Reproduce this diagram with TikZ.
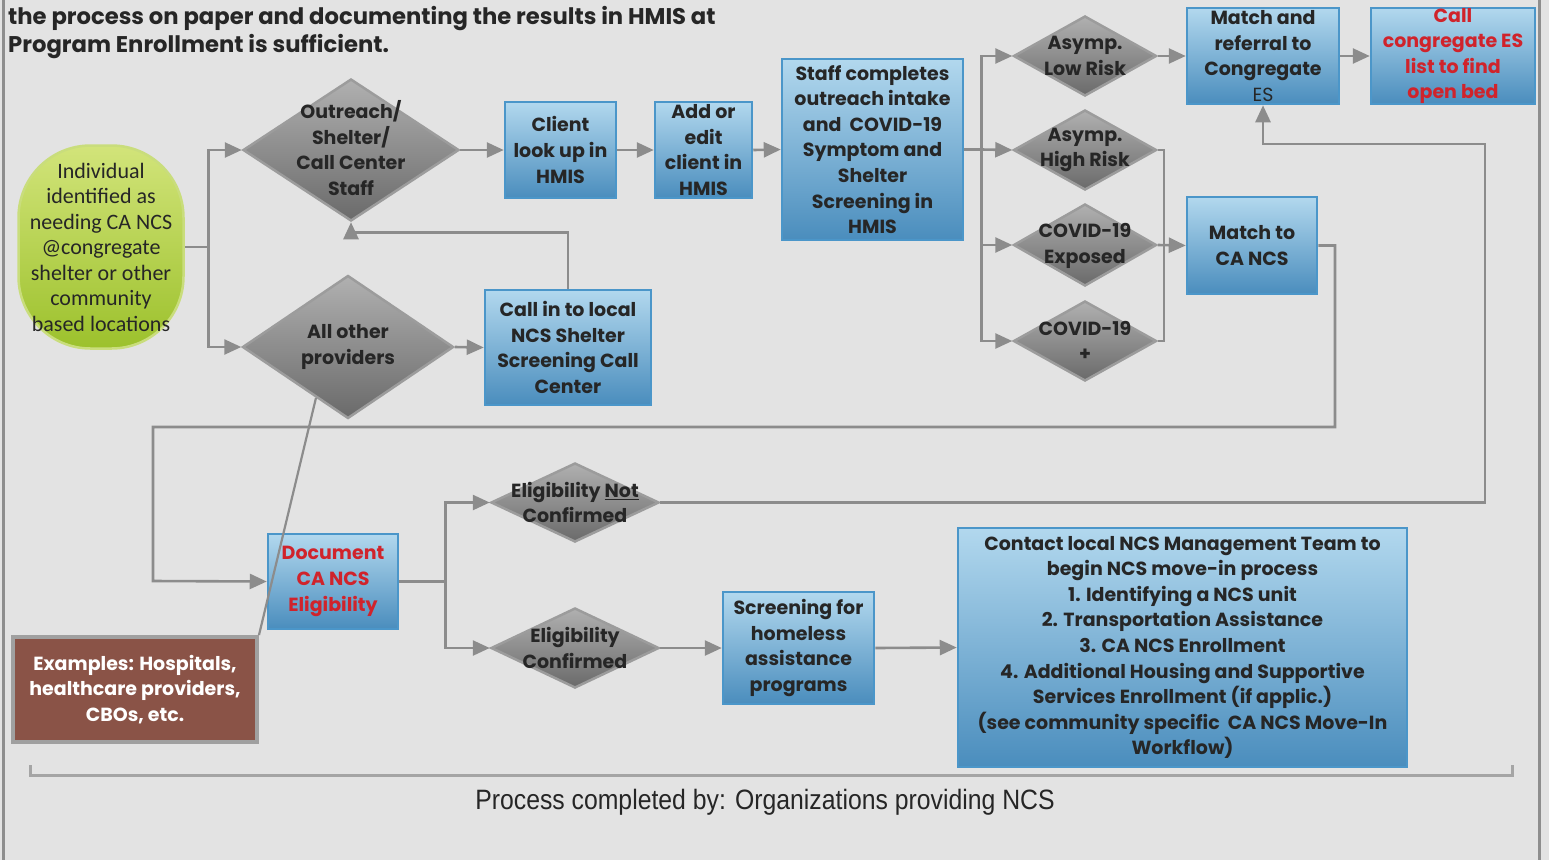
\documentclass[tikz,border=0pt]{standalone}
\usepackage{fontspec}
\setmainfont{Poppins}
\newfontfamily\greenfont{Carlito}
\newfontfamily\narrowfont{Liberation Sans}
\usetikzlibrary{shapes.geometric,arrows.meta,calc}
\definecolor{bg}{HTML}{E3E3E3}
\definecolor{boxtop}{HTML}{B2D8EE}
\definecolor{boxbot}{HTML}{4A8DBD}
\definecolor{boxedge}{HTML}{4B96C9}
\definecolor{diatop}{HTML}{B0B0B0}
\definecolor{diabot}{HTML}{6A6A6A}
\definecolor{diaedge}{HTML}{9C9C9C}
\definecolor{greentop}{HTML}{D2E47A}
\definecolor{greenbot}{HTML}{9CC12C}
\definecolor{greenedge}{HTML}{C9DD7C}
\definecolor{brownfill}{HTML}{8A5347}
\definecolor{brownedge}{HTML}{A0A0A0}
\definecolor{txt}{HTML}{262626}
\definecolor{redtxt}{HTML}{D0232B}
\definecolor{arr}{HTML}{8C8C8C}
\definecolor{frame}{HTML}{8E8E8E}
\newcommand\boxfont{\fontsize{19}{25.6}\selectfont\bfseries}
\begin{document}
\begin{tikzpicture}[x=1pt,y=-1pt,
  box/.style={draw=boxedge, line width=2.5pt, top color=boxtop, bottom color=boxbot, inner sep=0pt, align=center, font=\boxfont, text=txt},
  dia/.style={diamond, draw=diaedge, line width=2.5pt, top color=diatop, bottom color=diabot, inner sep=0pt},
  dtxt/.style={font=\boxfont, align=center, text=txt, inner sep=0pt},
  conn/.style={draw=arr, line width=2.6pt},
  arrow/.style={conn, -{Triangle[length=17pt,width=15pt]}},
]
\fill[bg] (0,0) rectangle (1549,860);
\useasboundingbox (0,0) rectangle (1549,860);
% frame
\draw[frame, line width=3pt] (3,0) -- (3,860);
\draw[frame, line width=3pt] (1539,0) -- (1539,860);
% top text
\node[anchor=west, align=left, inner sep=0pt, text=txt, font=\fontsize{22.7}{28}\selectfont\bfseries] (toptext) at (8,33)
  {the process on paper and documenting the results in HMIS at\\Program Enrollment is sufficient.};

% nodes
\node[draw=greenedge, line width=2.5pt, top color=greentop, bottom color=greenbot, rounded corners=72pt,
  minimum width=165pt, minimum height=203pt, inner sep=0pt, align=center, text=txt,
  font=\greenfont\fontsize{22}{25.5}\selectfont] (green) at (101,247)
  {Individual\\identified as\\needing CA NCS\\@congregate\\shelter or other\\community\\based locations};
\node[dia, minimum width=216pt, minimum height=142pt, label={[dtxt,yshift=2pt]center:{Outreach/\\Shelter/\\Call Center\\Staff}}] (outreach) at (351,150) {};
\node[dia, minimum width=211pt, minimum height=143pt, label={[dtxt]center:{All other\\providers}}] (others) at (348,347) {};
\node[box, minimum width=111pt, minimum height=96pt] (client) at (560.5,150) {Client\\look up in\\HMIS};
\node[box, minimum width=97pt, minimum height=96pt] (add) at (703.5,150) {Add or\\edit\\client in\\HMIS};
\node[box, minimum width=181pt, minimum height=181pt] (staff) at (872.5,149.5) {Staff completes\\outreach intake\\and\ \ COVID-19\\Symptom and\\Shelter\\Screening in\\HMIS};
\node[box, minimum width=166pt, minimum height=115pt] (callin) at (568,347.5) {Call in to local\\NCS Shelter\\Screening Call\\Center};
\node[dia, minimum width=143pt, minimum height=80pt, label={[dtxt]center:{Asymp.\\Low Risk}}] (low) at (1085,56) {};
\node[dia, minimum width=143pt, minimum height=80pt, label={[dtxt]center:{Asymp.\\High Risk}}] (high) at (1085,150) {};
\node[dia, minimum width=143pt, minimum height=82pt, label={[dtxt,yshift=-1pt]center:{COVID-19\\Exposed}}] (exposed) at (1085,245) {};
\node[dia, minimum width=143pt, minimum height=80pt, label={[dtxt]center:{COVID-19\\+}}] (plus) at (1085,341) {};
\node[box, minimum width=152pt, minimum height=96pt] (refer) at (1263,56) {Match and\\referral to\\Congregate\\{\mdseries ES}};
\node[box, minimum width=164pt, minimum height=96pt, text=redtxt] (call) at (1453,56) {Call\\congregate ES\\list to find\\open bed};
\node[box, minimum width=130pt, minimum height=97pt] (match) at (1252,245.5) {Match to\\CA NCS};
\node[box, minimum width=130pt, minimum height=95pt, text=redtxt] (doc) at (333,581.5) {Document\\CA NCS\\Eligibility};
\node[draw=brownedge, line width=4pt, fill=brownfill, minimum width=244pt, minimum height=105pt, inner sep=0pt,
  align=center, text=white, font=\boxfont] (brown) at (135,689.5) {Examples: Hospitals,\\healthcare providers,\\CBOs, etc.};
\node[dia, minimum width=168pt, minimum height=79pt, label={[dtxt]center:{Eligibility \underline{Not}\\Confirmed}}] (notconf) at (575,502.5) {};
\node[dia, minimum width=168pt, minimum height=80pt, label={[dtxt]center:{Eligibility\\Confirmed}}] (conf) at (575,648) {};
\node[box, minimum width=151pt, minimum height=112pt] (screen) at (798.5,648) {Screening for\\homeless\\assistance\\programs};
\node[box, minimum width=449pt, minimum height=239pt] (contact) at (1182.5,647.5) {Contact local NCS Management Team to\\begin NCS move-in process\\1. Identifying a NCS unit\\2. Transportation Assistance\\3. CA NCS Enrollment\\4. Additional Housing and Supportive\\Services Enrollment (if applic.)\\(see community specific\ \ CA NCS Move-In\\Workflow)};

% connectors
\coordinate (gj) at ($(green.east)+(24,0)$);
\draw[conn] (green.east) -- (gj);
\draw[arrow] (gj) |- (outreach.west);
\draw[arrow] (gj) |- (others.west);
\draw[arrow] (outreach.east) -- (client.west);
\draw[arrow] (client.east) -- (add.west);
\draw[arrow] (add.east) -- (staff.west);
\draw[arrow] (others.east) -- (callin.west);
\draw[arrow] (callin.north) -- ++(0,-56) -| (outreach.south);
\coordinate (tr) at ($(staff.east)+(17,0)$);
\draw[conn] (staff.east) -- (tr);
\draw[arrow] (tr) |- (low.west);
\draw[arrow] (tr) -- (high.west);
\draw[arrow] (tr) |- (exposed.west);
\draw[arrow] (tr) |- (plus.west);
\coordinate (mj) at (1164,245);
\draw[conn] (high.east) -| (mj);
\draw[conn] (plus.east) -| (mj);
\draw[arrow] (exposed.east) -- (match.west);
\draw[arrow] (low.east) -- (refer.west);
\draw[arrow] (refer.east) -- (call.west);
\draw[arrow] (match.east) -| (1335,427) -| (153,581) -- (doc.west);
\draw[arrow] (notconf.east) -| (1485,144) -| (refer.south);
\coordinate (dj) at ($(doc.east)+(46,0)$);
\draw[conn] (doc.east) -- (dj);
\draw[arrow] (dj) |- (notconf.west);
\draw[arrow] (dj) |- (conf.west);
\draw[arrow] (conf.east) -- (screen.west);
\draw[arrow] (screen.east) -- (contact.west);
\draw[conn, line width=2.2pt] ($(others.west)!0.7!(others.south)$) -- (brown.north east);

% bottom bracket
\draw[draw=frame!80, line width=3pt] (30,765) -- (30,775) -- (1512,775) -- (1512,765);
\node[inner sep=0pt, text=txt] (footer) at (765,802)
  {\scalebox{0.885}[1]{\narrowfont\fontsize{28}{30}\selectfont Process completed by: Organizations providing NCS}};
\end{tikzpicture}
\end{document}
